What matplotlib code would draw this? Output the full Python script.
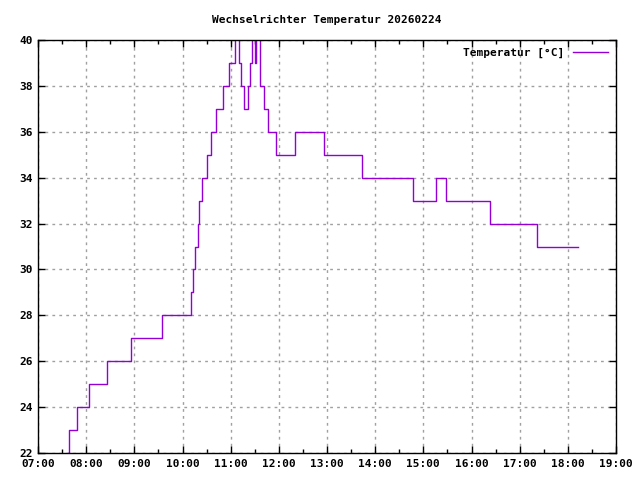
import numpy as np
import pandas as pd
import matplotlib
matplotlib.use("Agg")
import matplotlib.pyplot as plt
from matplotlib.ticker import MultipleLocator, FuncFormatter

# step start times and temperature held from that time on
times = ["07:37", "07:38", "07:49", "08:04", "08:26", "08:56", "09:35",
         "10:11", "10:13", "10:16", "10:19", "10:21", "10:24", "10:30",
         "10:35", "10:42", "10:50", "10:58", "11:06", "11:11", "11:13",
         "11:17", "11:22", "11:24", "11:27", "11:30", "11:32", "11:36",
         "11:42", "11:47", "11:57", "12:20", "12:56", "13:43", "14:47",
         "15:16", "15:28", "16:23", "17:22", "18:13"]
temps = [22, 23, 24, 25, 26, 27, 28,
         29, 30, 31, 32, 33, 34, 35,
         36, 37, 38, 39, 41, 39, 38,
         37, 38, 39, 41, 39, 41, 38,
         37, 36, 35, 36, 35, 34, 33,
         34, 33, 32, 31, 31]

title = "Wechselrichter Temperatur 20260224"
series_label = "Temperatur [°C]"

hours = pd.to_timedelta([t + ":00" for t in times]).total_seconds() / 3600.0

plt.rcParams['font.family'] = ['DejaVu Sans Mono']
plt.rcParams['font.size'] = 8
plt.rcParams['font.weight'] = 'bold'

fig = plt.figure(figsize=(6.4, 4.8), dpi=100)
ax = fig.add_axes([38 / 640, 1 - 453 / 480, 578 / 640, 413 / 480])

ax.plot(hours, temps, drawstyle='steps-post', color='#9400d3', lw=1,
        label=series_label)

ax.set_xlim(7, 19)
ax.set_ylim(22, 40)
ax.xaxis.set_major_locator(MultipleLocator(1))
ax.xaxis.set_minor_locator(MultipleLocator(0.5))
ax.yaxis.set_major_locator(MultipleLocator(2))
ax.xaxis.set_major_formatter(FuncFormatter(lambda v, p: f"{int(round(v)):02d}:00"))

ax.tick_params(which='both', direction='in', top=True, right=True, width=1)
ax.tick_params(which='major', length=5, pad=4)
ax.tick_params(which='minor', length=3)
for s in ax.spines.values():
    s.set_linewidth(1)
    s.set_color('black')

ax.grid(True, which='major', color='#a0a0a0', linestyle=(0, (2, 3)), lw=1)
ax.set_axisbelow(True)

ax.set_title(title, fontsize=8, fontweight='bold', pad=12)
leg = ax.legend(loc='upper right', frameon=False, markerfirst=False,
                handlelength=3.2, borderaxespad=0.3, fontsize=8)
for t in leg.get_texts():
    t.set_fontweight('bold')

fig.savefig("out.png", dpi=100)
